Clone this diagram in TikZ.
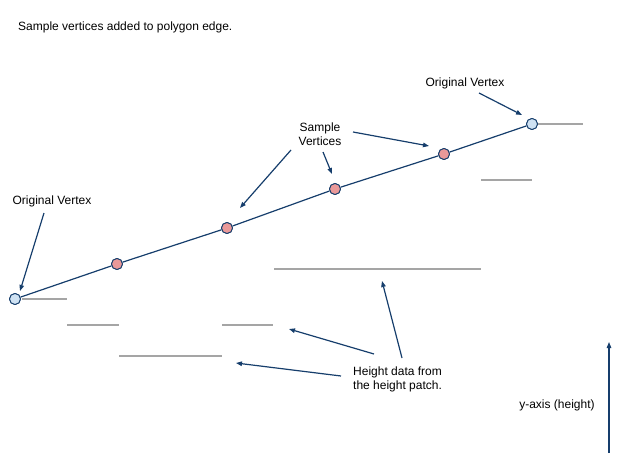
\documentclass[tikz,border=0pt]{standalone}
\usepackage{fontspec}
\setmainfont{Liberation Sans}
\usetikzlibrary{arrows.meta}
\definecolor{navy}{RGB}{22,62,108}
\definecolor{origfill}{RGB}{207,226,243}
\definecolor{sampfill}{RGB}{234,153,153}
\definecolor{patch}{RGB}{165,165,165}
\begin{document}
\begin{tikzpicture}[x=1pt,y=-1pt,
  lbl/.style={font=\fontsize{12}{14}\selectfont, inner sep=0pt, align=center, text=black},
  orig/.style={circle, draw=navy, fill=origfill, line width=0.9pt, minimum size=11pt, inner sep=0pt},
  samp/.style={circle, draw=navy, fill=sampfill, line width=0.9pt, minimum size=11pt, inner sep=0pt},
  edge/.style={draw=navy, line width=1.2pt},
  pointer/.style={draw=navy, line width=1.2pt, -{Triangle[length=6pt,width=4.5pt]}},
  hpatch/.style={draw=patch, line width=1.2pt}]
\useasboundingbox (0,0) rectangle (620,465);
% height patch lines
\coordinate (h1a) at (22,299); \coordinate (h1b) at (67,299);
\coordinate (h2a) at (67,325); \coordinate (h2b) at (119,325);
\coordinate (h3a) at (222,325); \coordinate (h3b) at (273,325);
\coordinate (h4a) at (119,356); \coordinate (h4b) at (222,356);
\coordinate (h5a) at (274,269); \coordinate (h5b) at (481,269);
\coordinate (h6a) at (481,180); \coordinate (h6b) at (532,180);
\coordinate (h7a) at (537,124); \coordinate (h7b) at (583,124);
\foreach \i in {1,...,7} \draw[hpatch] (h\i a) -- (h\i b);
% vertices
\node[orig] (o1) at (15,299) {};
\node[samp] (s1) at (117,264) {};
\node[samp] (s2) at (227,228) {};
\node[samp] (s3) at (335,189) {};
\node[samp] (s4) at (444,154) {};
\node[orig] (o2) at (532,124) {};
\draw[edge] (o1) -- (s1) -- (s2) -- (s3) -- (s4) -- (o2);
% redraw nodes on top
\node[orig] at (o1) {};
\node[samp] at (s1) {};
\node[samp] at (s2) {};
\node[samp] at (s3) {};
\node[samp] at (s4) {};
\node[orig] at (o2) {};
% labels
\node[lbl, anchor=west] (title) at (18,27) {Sample vertices added to polygon edge.};
\node[lbl] (lo1) at (52,201) {Original Vertex};
\node[lbl] (lo2) at (465,83) {Original Vertex};
\node[lbl] (ls) at (320,134) {Sample\\Vertices};
\node[lbl, align=left, anchor=west] (lh) at (353,379) {Height data from\\the height patch.};
\node[lbl] (ly) at (557,405) {y-axis (height)};
% pointers
\coordinate (p1) at (44,213); \coordinate (q1) at (20,291);
\coordinate (p2) at (479,93); \coordinate (q2) at (522,115);
\coordinate (p3) at (291,150); \coordinate (q3) at (240,208);
\coordinate (p4) at (323,152); \coordinate (q4) at (332,174);
\coordinate (p5) at (353,132); \coordinate (q5) at (429,146);
\coordinate (p6) at (374,354); \coordinate (q6) at (289,329);
\coordinate (p7) at (341,376); \coordinate (q7) at (236,363);
\coordinate (p8) at (402,358); \coordinate (q8) at (382,281);
\coordinate (ya) at (609,453); \coordinate (yb) at (609,342);
\foreach \i in {1,...,8} \draw[pointer] (p\i) -- (q\i);
\draw[pointer] (ya) -- (yb);
\end{tikzpicture}
\end{document}
